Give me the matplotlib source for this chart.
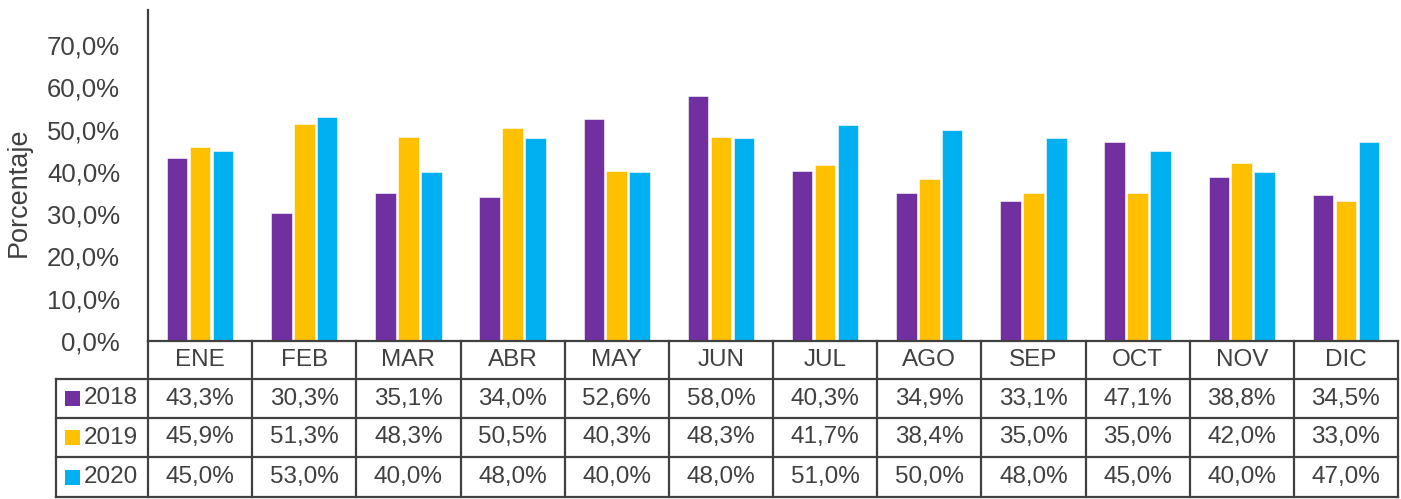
import matplotlib
matplotlib.use("Agg")
import matplotlib.pyplot as plt
from matplotlib.lines import Line2D
from matplotlib.patches import Rectangle
import numpy as np

months = ["ENE", "FEB", "MAR", "ABR", "MAY", "JUN", "JUL", "AGO", "SEP", "OCT", "NOV", "DIC"]
years = ["2018", "2019", "2020"]
v2018 = [43.3, 30.3, 35.1, 34.0, 52.6, 58.0, 40.3, 34.9, 33.1, 47.1, 38.8, 34.5]
v2019 = [45.9, 51.3, 48.3, 50.5, 40.3, 48.3, 41.7, 38.4, 35.0, 35.0, 42.0, 33.0]
v2020 = [45.0, 53.0, 40.0, 48.0, 40.0, 48.0, 51.0, 50.0, 48.0, 45.0, 40.0, 47.0]
series = [v2018, v2019, v2020]
colors = ["#7030A0", "#FFC000", "#00B0F0"]
yticks = [0, 10, 20, 30, 40, 50, 60, 70]

plt.rcParams['font.family'] = ['Liberation Sans', 'DejaVu Sans']
TXT = "#404040"
LINE = "#404040"

W, H = 1401, 499
fig = plt.figure(figsize=(W / 100, H / 100), dpi=100)
AX_L, AX_R, AX_T, AX_B = 148, 1398, 10, 341
ax = fig.add_axes([AX_L / W, 1 - AX_B / H, (AX_R - AX_L) / W, (AX_B - AX_T) / H])

x = np.arange(len(months))
bw = 0.197
offs = [-0.22, 0.0, 0.22]
for vals, c, o in zip(series, colors, offs):
    ax.bar(x + o, vals, width=bw, color=c, edgecolor="white", linewidth=0.4, zorder=2)

ax.set_xlim(-0.5, len(months) - 0.5)
ax.set_ylim(0, 78.3)
ax.set_yticks(yticks)
ax.set_yticklabels([f"{t:.1f}".replace(".", ",") + "%" for t in yticks], fontsize=18.5, color=TXT)
ax.tick_params(axis="y", length=0, pad=20)
ax.set_xticks([])
for s in ["top", "right", "bottom"]:
    ax.spines[s].set_visible(False)
ax.spines["left"].set_color(LINE)
ax.spines["left"].set_linewidth(1.6)
ax.set_ylabel("Porcentaje", fontsize=19.5, color=TXT)
ax.yaxis.set_label_coords((32 - AX_L) / (AX_R - AX_L), (AX_B - 192) / (AX_B - AX_T))

def fx(px):
    return px / W

def fy(py):
    return 1 - py / H

def hline(x0, x1, y):
    fig.add_artist(Line2D([fx(x0), fx(x1)], [fy(y), fy(y)], transform=fig.transFigure,
                          color=LINE, lw=1.6, solid_capstyle="projecting"))

def vline(xp, y0, y1):
    fig.add_artist(Line2D([fx(xp), fx(xp)], [fy(y0), fy(y1)], transform=fig.transFigure,
                          color=LINE, lw=1.6, solid_capstyle="projecting"))

row_edges = [341, 379, 418, 457, 497]
TBL_L = 56
colw = (AX_R - AX_L) / len(months)

hline(AX_L, AX_R, row_edges[0])
for ye in row_edges[1:]:
    hline(TBL_L, AX_R, ye)
for i in range(len(months) + 1):
    vline(AX_L + i * colw, row_edges[0], row_edges[-1])
vline(TBL_L, row_edges[1], row_edges[-1])

fs_tbl = 17.5
for i, m in enumerate(months):
    cx = AX_L + (i + 0.5) * colw
    cy = (row_edges[0] + row_edges[1]) / 2
    fig.text(fx(cx), fy(cy), m, ha="center", va="center", fontsize=fs_tbl, color=TXT)
    for r, vals in enumerate(series):
        cy = (row_edges[r + 1] + row_edges[r + 2]) / 2
        fig.text(fx(cx), fy(cy), f"{vals[i]:.1f}".replace(".", ",") + "%",
                 ha="center", va="center", fontsize=fs_tbl, color=TXT)

for r, (yr, c) in enumerate(zip(years, colors)):
    cy = (row_edges[r + 1] + row_edges[r + 2]) / 2
    fig.add_artist(Rectangle((fx(65), fy(cy + 7.5)), 15 / W, 15 / H,
                             transform=fig.transFigure, facecolor=c, edgecolor="none"))
    fig.text(fx(84), fy(cy), yr, ha="left", va="center", fontsize=fs_tbl, color=TXT)

fig.savefig("out.png", dpi=100)
